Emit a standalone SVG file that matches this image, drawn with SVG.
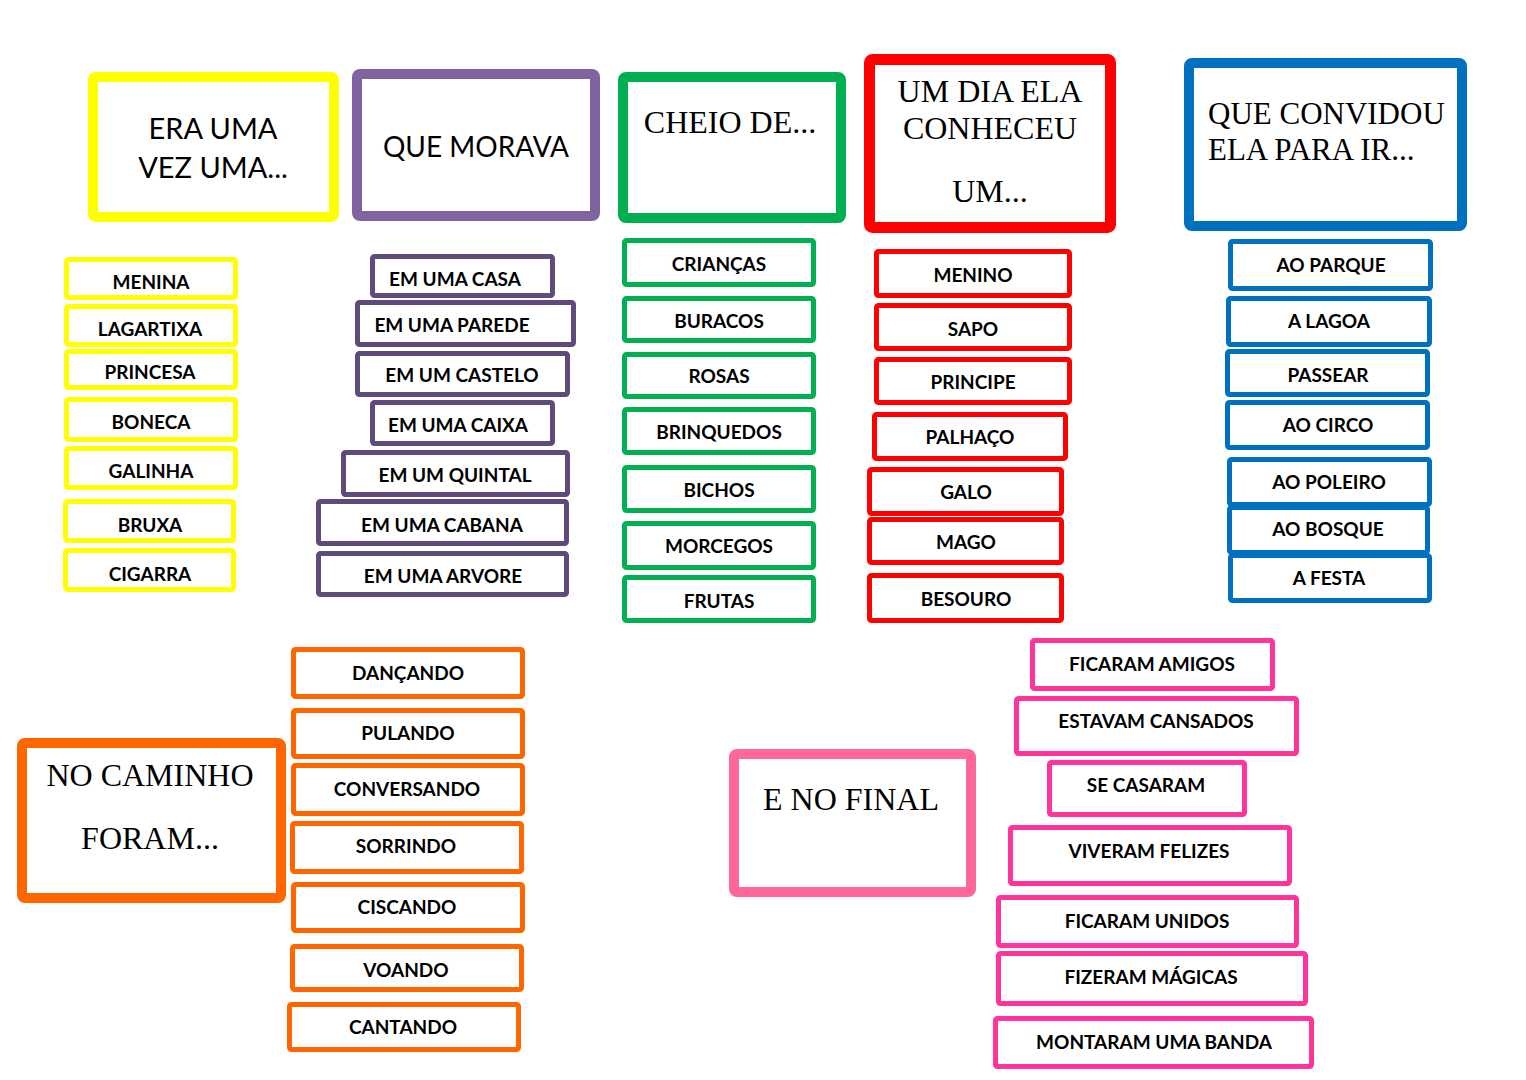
<svg xmlns="http://www.w3.org/2000/svg" width="1526" height="1080" viewBox="0 0 1526 1080">
<style>
rect{fill:#fff}
.h{stroke-width:10}
.b{stroke-width:5}
.y{stroke:#FFFF00}.p{stroke:#8064A2}.pd{stroke:#604A7B}.g{stroke:#00B050}.r{stroke:#FF0000}.bl{stroke:#0070C0}.o{stroke:#FF6600}.pk{stroke:#FF6699}.pk2{stroke:#FF3399}
text{fill:#000}
.t{font-family:Lato,"Open Sans",sans-serif;font-weight:700;font-size:19px;text-anchor:middle}
.hs{font-family:Lato,"Open Sans",sans-serif;font-size:29px;text-anchor:middle}
.hr{font-family:"Liberation Serif","Times New Roman",serif;font-size:32px;text-anchor:middle}
</style>
<g id="connectors"/>
<!-- headers -->
<g id="h-era"><rect class="h y" x="93" y="77" width="241" height="140" rx="3"/><text class="hs" x="213" y="139">ERA UMA</text><text class="hs" x="213" y="178">VEZ UMA...</text></g>
<g id="h-morava"><rect class="h p" x="357" y="74" width="238" height="142" rx="3"/><text class="hs" style="font-size:28px" x="476" y="157">QUE MORAVA</text></g>
<g id="h-cheio"><rect class="h g" x="623" y="77" width="218" height="141" rx="3"/><text class="hr" x="730" y="133">CHEIO DE...</text></g>
<g id="h-dia"><rect class="r" style="stroke-width:11" x="869.5" y="59.5" width="241" height="168" rx="3"/><text class="hr" x="990" y="102">UM DIA ELA</text><text class="hr" x="990" y="139">CONHECEU</text><text class="hr" x="990" y="202">UM...</text></g>
<g id="h-convidou"><rect class="h bl" x="1189" y="63" width="273" height="163" rx="3"/><text class="hr" style="text-anchor:start;font-size:31px" x="1208" y="124">QUE CONVIDOU</text><text class="hr" style="text-anchor:start;font-size:31px" x="1208" y="160">ELA PARA IR...</text></g>
<g id="h-caminho"><rect class="h o" x="22" y="743" width="259" height="155" rx="3"/><text class="hr" x="150" y="786">NO CAMINHO</text><text class="hr" x="150" y="849">FORAM...</text></g>
<g id="h-final"><rect class="h pk" x="734" y="754" width="237" height="138" rx="3"/><text class="hr" x="851" y="810">E NO FINAL</text></g>
<!-- yellow -->
<g id="y1"><rect class="b y" x="66.5" y="259.5" width="169" height="38" rx="2"/><text class="t" x="151" y="289">MENINA</text></g>
<g id="y2"><rect class="b y" x="66.5" y="306.5" width="169" height="38" rx="2"/><text class="t" x="150" y="336">LAGARTIXA</text></g>
<g id="y3"><rect class="b y" x="66.5" y="351.5" width="169" height="36" rx="2"/><text class="t" x="150" y="379">PRINCESA</text></g>
<g id="y4"><rect class="b y" x="66.5" y="399.5" width="169" height="40" rx="2"/><text class="t" x="151" y="429">BONECA</text></g>
<g id="y5"><rect class="b y" x="66.5" y="448.5" width="169" height="39" rx="2"/><text class="t" x="151" y="478">GALINHA</text></g>
<g id="y6"><rect class="b y" x="65.5" y="501.5" width="168" height="39" rx="2"/><text class="t" x="150" y="532">BRUXA</text></g>
<g id="y7"><rect class="b y" x="65.5" y="550.5" width="168" height="39" rx="2"/><text class="t" x="150" y="581">CIGARRA</text></g>
<!-- purple -->
<g id="p1"><rect class="b pd" x="372.5" y="256.5" width="180" height="39" rx="2"/><text class="t" x="455" y="286">EM UMA CASA</text></g>
<g id="p2"><rect class="b pd" x="357.5" y="302.5" width="216" height="42" rx="2"/><text class="t" x="452" y="332">EM UMA PAREDE</text></g>
<g id="p3"><rect class="b pd" x="357.5" y="353.5" width="210" height="41" rx="2"/><text class="t" x="462" y="382">EM UM CASTELO</text></g>
<g id="p4"><rect class="b pd" x="372.5" y="402.5" width="180" height="41" rx="2"/><text class="t" x="458" y="432">EM UMA CAIXA</text></g>
<g id="p5"><rect class="b pd" x="343.5" y="452.5" width="224" height="42" rx="2"/><text class="t" x="455" y="482">EM UM QUINTAL</text></g>
<g id="p6"><rect class="b pd" x="318.5" y="501.5" width="248" height="42" rx="2"/><text class="t" x="442" y="532">EM UMA CABANA</text></g>
<g id="p7"><rect class="b pd" x="318.5" y="553.5" width="248" height="41" rx="2"/><text class="t" x="443" y="583">EM UMA ARVORE</text></g>
<!-- green -->
<g id="g1"><rect class="b g" x="624.5" y="240.5" width="189" height="44" rx="2"/><text class="t" x="719" y="271">CRIANÇAS</text></g>
<g id="g2"><rect class="b g" x="624.5" y="298.5" width="189" height="42" rx="2"/><text class="t" x="719" y="328">BURACOS</text></g>
<g id="g3"><rect class="b g" x="624.5" y="354.5" width="189" height="42" rx="2"/><text class="t" x="719" y="383">ROSAS</text></g>
<g id="g4"><rect class="b g" x="624.5" y="409.5" width="189" height="43" rx="2"/><text class="t" x="719" y="439">BRINQUEDOS</text></g>
<g id="g5"><rect class="b g" x="624.5" y="467.5" width="189" height="43" rx="2"/><text class="t" x="719" y="497">BICHOS</text></g>
<g id="g6"><rect class="b g" x="624.5" y="523.5" width="189" height="44" rx="2"/><text class="t" x="719" y="553">MORCEGOS</text></g>
<g id="g7"><rect class="b g" x="624.5" y="577.5" width="189" height="43" rx="2"/><text class="t" x="719" y="608">FRUTAS</text></g>
<!-- red -->
<g id="r1"><rect class="b r" x="876.5" y="251.5" width="193" height="44" rx="2"/><text class="t" x="973" y="282">MENINO</text></g>
<g id="r2"><rect class="b r" x="876.5" y="305.5" width="193" height="43" rx="2"/><text class="t" x="973" y="336">SAPO</text></g>
<g id="r3"><rect class="b r" x="876.5" y="359.5" width="193" height="43" rx="2"/><text class="t" x="973" y="389">PRINCIPE</text></g>
<g id="r4"><rect class="b r" x="874.5" y="414.5" width="191" height="44" rx="2"/><text class="t" x="970" y="444">PALHAÇO</text></g>
<g id="r5"><rect class="b r" x="869.5" y="469.5" width="192" height="44" rx="2"/><text class="t" x="966" y="499">GALO</text></g>
<g id="r6"><rect class="b r" x="869.5" y="519.5" width="192" height="43" rx="2"/><text class="t" x="966" y="549">MAGO</text></g>
<g id="r7"><rect class="b r" x="869.5" y="575.5" width="192" height="45" rx="2"/><text class="t" x="966" y="606">BESOURO</text></g>
<!-- blue -->
<g id="b1"><rect class="b bl" x="1230.5" y="241.5" width="200" height="47" rx="2"/><text class="t" x="1331" y="272">AO PARQUE</text></g>
<g id="b2"><rect class="b bl" x="1228.5" y="298.5" width="201" height="46" rx="2"/><text class="t" x="1329" y="328">A LAGOA</text></g>
<g id="b3"><rect class="b bl" x="1227.5" y="351.5" width="200" height="43" rx="2"/><text class="t" x="1328" y="382">PASSEAR</text></g>
<g id="b4"><rect class="b bl" x="1227.5" y="402.5" width="200" height="45" rx="2"/><text class="t" x="1328" y="432">AO CIRCO</text></g>
<g id="b5"><rect class="b bl" x="1229.5" y="459.5" width="200" height="45" rx="2"/><text class="t" x="1329" y="489">AO POLEIRO</text></g>
<g id="b6"><rect class="b bl" x="1229.5" y="507.5" width="198" height="45" rx="2"/><text class="t" x="1328" y="536">AO BOSQUE</text></g>
<g id="b7"><rect class="b bl" x="1230.5" y="555.5" width="199" height="45" rx="2"/><text class="t" x="1329" y="585">A FESTA</text></g>
<!-- orange -->
<g id="o1"><rect class="b o" x="293.5" y="649.5" width="229" height="47" rx="2"/><text class="t" x="408" y="680">DANÇANDO</text></g>
<g id="o2"><rect class="b o" x="293.5" y="710.5" width="229" height="46" rx="2"/><text class="t" x="408" y="740">PULANDO</text></g>
<g id="o3"><rect class="b o" x="293.5" y="765.5" width="229" height="48" rx="2"/><text class="t" x="407" y="796">CONVERSANDO</text></g>
<g id="o4"><rect class="b o" x="292.5" y="823.5" width="229" height="48" rx="2"/><text class="t" x="406" y="853">SORRINDO</text></g>
<g id="o5"><rect class="b o" x="293.5" y="884.5" width="229" height="46" rx="2"/><text class="t" x="407" y="914">CISCANDO</text></g>
<g id="o6"><rect class="b o" x="292.5" y="946.5" width="229" height="43" rx="2"/><text class="t" x="406" y="977">VOANDO</text></g>
<g id="o7"><rect class="b o" x="289.5" y="1004.5" width="229" height="45" rx="2"/><text class="t" x="403" y="1034">CANTANDO</text></g>
<!-- pink -->
<g id="k1"><rect class="b pk2" x="1032.5" y="640.5" width="240" height="48" rx="2"/><text class="t" x="1152" y="671">FICARAM AMIGOS</text></g>
<g id="k2"><rect class="b pk2" x="1016.5" y="698.5" width="280" height="55" rx="2"/><text class="t" x="1156" y="728">ESTAVAM CANSADOS</text></g>
<g id="k3"><rect class="b pk2" x="1049.5" y="762.5" width="195" height="52" rx="2"/><text class="t" x="1146" y="792">SE CASARAM</text></g>
<g id="k4"><rect class="b pk2" x="1010.5" y="827.5" width="279" height="56" rx="2"/><text class="t" x="1149" y="858">VIVERAM FELIZES</text></g>
<g id="k5"><rect class="b pk2" x="998.5" y="897.5" width="298" height="48" rx="2"/><text class="t" x="1147" y="928">FICARAM UNIDOS</text></g>
<g id="k6"><rect class="b pk2" x="998.5" y="953.5" width="307" height="50" rx="2"/><text class="t" x="1151" y="984">FIZERAM MÁGICAS</text></g>
<g id="k7"><rect class="b pk2" x="995.5" y="1018.5" width="316" height="48" rx="2"/><text class="t" x="1154" y="1049">MONTARAM UMA BANDA</text></g>
</svg>
